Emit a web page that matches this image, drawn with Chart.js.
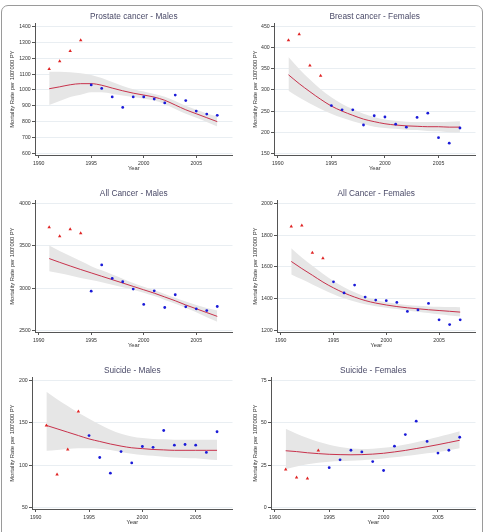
<!DOCTYPE html>
<html>
<head>
<meta charset="utf-8">
<script src="https://cdn.jsdelivr.net/npm/chart.js@4.4.1/dist/chart.umd.min.js"></script>
<style>
body{margin:0;background:#fff;width:486px;height:532px;overflow:hidden;position:relative;font-family:"Liberation Sans",Arial,sans-serif;}
.frame{position:absolute;left:1px;top:5px;width:480px;height:600px;border:1px solid #9a9a9a;border-radius:7px;}
canvas{position:absolute;}
</style>
</head>
<body>
<div class="frame"></div>
<canvas id="c1" width="243" height="177" style="left:0;top:0"></canvas>
<canvas id="c2" width="243" height="177" style="left:243px;top:0"></canvas>
<canvas id="c3" width="243" height="177" style="left:0;top:177px"></canvas>
<canvas id="c4" width="243" height="177" style="left:243px;top:177px"></canvas>
<canvas id="c5" width="243" height="177" style="left:0;top:354px"></canvas>
<canvas id="c6" width="243" height="177" style="left:243px;top:354px"></canvas>
<script>

// ------------------------------
// Data
// ------------------------------

const years = [1991,1992,1993,1994,1995,1996,1997,1998,1999,2000,2001,2002,2003,2004,2005,2006,2007];
const earlyCount = 4; // 1991-1994 drawn as red triangles
const xTicks = [1990,1995,2000,2005];

const prostateObs = [1132,1181,1246,1314,1032,1010,956,890,956,956,943,918,968,933,867,848,840];
const prostateFit = [1008,1020,1033,1040,1040,1030,1012,995,980,968,955,935,905,875,850,825,800];
const prostateHi  = [1115,1115,1112,1105,1095,1075,1050,1025,1005,990,975,958,930,900,875,852,832];
const prostateLo  = [905,930,955,970,985,985,975,965,955,945,933,912,880,850,825,798,770];
const prostateTicks = [600,700,800,900,1000,1100,1200,1300,1400];

const breastObs = [418,432,358,334,263,253,253,217,239,236,219,212,235,245,187,174,210];
const breastFit = [336,315,296,278,262,250,240,231,225,220,217,215,214,213,213,212,212];
const breastHi  = [378,350,325,302,283,267,255,244,236,230,227,225,224,224,224,225,226];
const breastLo  = [298,282,268,255,244,234,226,219,213,210,208,206,205,203,202,200,199];
const breastTicks = [150,200,250,300,350,400,450];

const allMObs = [3722,3615,3698,3651,2964,3274,3115,3075,2988,2806,2968,2770,2921,2778,2754,2734,2782];
const allMFit = [3350,3305,3262,3220,3180,3140,3100,3060,3020,2980,2940,2895,2850,2800,2755,2710,2665];
const allMHi  = [3505,3440,3380,3320,3260,3210,3160,3110,3060,3015,2975,2930,2885,2840,2800,2765,2735];
const allMLo  = [3200,3175,3150,3120,3095,3070,3040,3010,2980,2945,2905,2860,2815,2765,2715,2655,2600];
const allMTicks = [2500,3000,3500,4000];

const allFObs = [1856,1862,1690,1656,1506,1436,1486,1410,1391,1387,1376,1319,1329,1370,1266,1236,1266];
const allFFit = [1635,1590,1548,1505,1468,1436,1410,1388,1372,1360,1350,1342,1336,1330,1325,1320,1315];
const allFHi  = [1718,1660,1608,1558,1512,1472,1440,1412,1392,1378,1368,1360,1355,1351,1349,1347,1346];
const allFLo  = [1553,1522,1490,1458,1428,1402,1382,1365,1352,1343,1334,1325,1317,1309,1301,1294,1287];
const allFTicks = [1200,1400,1600,1800,2000];

const suiMObs = [147,88.8,118.5,163.6,135,109,90.4,116,102.6,122,121,141,123.6,124.4,123.6,115,139.5];
const suiMFit = [147,143,139,135,131,128,125,122.5,120.5,119.5,118.5,118,117.5,117.5,117.5,117.5,117.5];
const suiMHi  = [187,178,170,162,155,148,142,137,134,132,131,130.5,130,130,130,130,130];
const suiMLo  = [117,118,119,120,120,119.5,118,115.5,113.5,112,111,110,109,108.5,108,107,106];
const suiMTicks = [50,100,150,200];

const suiFObs = [22.4,17.6,17,33.6,23.5,28.1,33.8,32.8,27.1,21.8,36.2,43.1,51,39,32.1,33.8,41.5];
const suiFFit = [33.5,33,32.3,31.8,31.4,31.2,31.1,31.2,31.5,32,32.8,33.7,34.8,35.9,37.1,38.4,39.7];
const suiFHi  = [46.5,43.5,41,38.8,37,35.7,34.9,34.6,34.7,35.2,36,37.2,38.6,40,41.6,43.2,45];
const suiFLo  = [22.6,24.2,25.5,26.4,27,27.4,27.6,27.9,28.3,28.9,29.6,30.4,31.2,32,32.8,33.8,35];
const suiFTicks = [0,25,50,75];

// ------------------------------
// Panel builder
// ------------------------------

const FONT = "'Liberation Sans', Arial, sans-serif";

function pts(xs, ys){
    return xs.map((x,i)=>({x:x, y:ys[i]}));
}

function makePanel(id, title, obs, fit, hi, lo, yTicks, axisW){

    const lo0 = yTicks[0], hi0 = yTicks[yTicks.length-1], R = hi0 - lo0;

    new Chart(document.getElementById(id), {
        type: "line",
        data: {
            datasets: [
                {data: pts(years, hi), fill: "+1", backgroundColor: "#e6e6e6", borderWidth: 0,
                 pointRadius: 0, cubicInterpolationMode: "monotone", order: 3},
                {data: pts(years, lo), fill: false, borderWidth: 0, pointRadius: 0,
                 cubicInterpolationMode: "monotone", order: 3},
                {data: pts(years, fit), borderColor: "#c8324c", borderWidth: 1, pointRadius: 0,
                 cubicInterpolationMode: "monotone", order: 2},
                {data: pts(years.slice(earlyCount), obs.slice(earlyCount)), showLine: false,
                 pointStyle: "circle", pointRadius: 1.4, pointBackgroundColor: "#1a1ad8",
                 pointBorderWidth: 0, order: 1},
                {data: pts(years.slice(0, earlyCount), obs.slice(0, earlyCount)), showLine: false,
                 pointStyle: "triangle", pointRadius: 2, pointBackgroundColor: "#e02424",
                 pointBorderWidth: 0, order: 0}
            ]
        },
        options: {
            responsive: false,
            animation: false,
            layout: {padding: {left: 0, right: 10.5, top: 0, bottom: 0}},
            plugins: {
                legend: {display: false},
                tooltip: {enabled: false},
                title: {
                    display: true, text: title, fullSize: false,
                    color: "#4a4a68",
                    font: {family: FONT, size: 8.3, weight: "normal"},
                    padding: {top: 11.7, bottom: 1.6}
                }
            },
            scales: {
                x: {
                    type: "linear", min: 1989.65, max: 2008.45,
                    afterBuildTicks: s => { s.ticks = xTicks.map(v=>({value:v})); },
                    afterFit: s => { s.height = 22; s.paddingLeft = 0; s.paddingRight = 0; },
                    grid: {drawOnChartArea: false, tickLength: 3, tickColor: "#555"},
                    border: {color: "#555", width: 1},
                    ticks: {color: "#333", padding: 2, maxRotation: 0,
                            font: {family: FONT, size: 5.2}, callback: v => String(v)},
                    title: {display: true, text: "Year", color: "#333",
                            font: {family: FONT, size: 5.8}, padding: {top: 0, bottom: 5.1}}
                },
                y: {
                    min: lo0 - 0.0134*R, max: hi0 + 0.027*R,
                    afterBuildTicks: s => { s.ticks = yTicks.map(v=>({value:v})); },
                    afterFit: s => { s.width = axisW; s.paddingTop = 0; s.paddingBottom = 0; },
                    grid: {color: "#e9eef2", tickLength: 3, tickColor: "#555"},
                    border: {color: "#555", width: 1},
                    ticks: {color: "#333", padding: 1.3,
                            font: {family: FONT, size: 5.2}, callback: v => String(v)},
                    title: {display: true, text: "Mortality Rate per 100'000 PY", color: "#333",
                            font: {family: FONT, size: 5.8}, padding: {top: 8.5, bottom: 0}}
                }
            }
        }
    });
}

// ------------------------------
// Panels
// ------------------------------

makePanel("c1", "Prostate cancer - Males", prostateObs, prostateFit, prostateHi, prostateLo, prostateTicks, 35);
makePanel("c2", "Breast cancer - Females", breastObs, breastFit, breastHi, breastLo, breastTicks, 31);
makePanel("c3", "All Cancer - Males", allMObs, allMFit, allMHi, allMLo, allMTicks, 35);
makePanel("c4", "All Cancer - Females", allFObs, allFFit, allFHi, allFLo, allFTicks, 34);
makePanel("c5", "Suicide - Males", suiMObs, suiMFit, suiMHi, suiMLo, suiMTicks, 32);
makePanel("c6", "Suicide - Females", suiFObs, suiFFit, suiFHi, suiFLo, suiFTicks, 28);

</script>
</body>
</html>
